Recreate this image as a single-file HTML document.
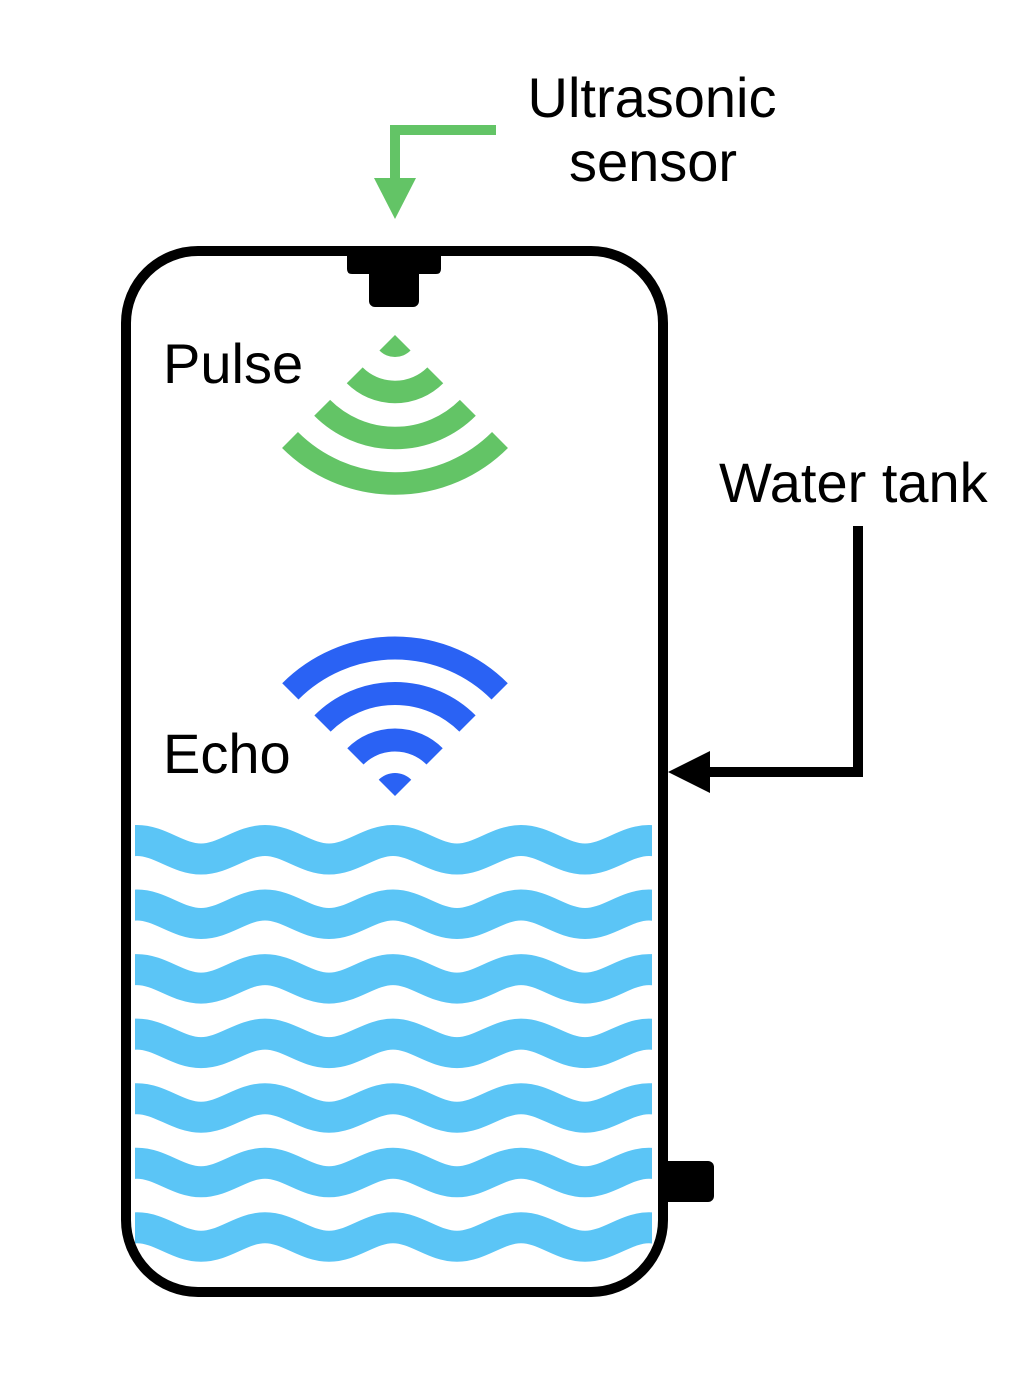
<!DOCTYPE html>
<html>
<head>
<meta charset="utf-8">
<style>
  html, body { margin: 0; padding: 0; background: #ffffff; }
  body { width: 1036px; height: 1382px; overflow: hidden; }
  svg { display: block; }
  text { font-family: "Liberation Sans", "DejaVu Sans", sans-serif; font-size: 56px; fill: #000; }
</style>
</head>
<body>
<svg width="1036" height="1382" viewBox="0 0 1036 1382" xmlns="http://www.w3.org/2000/svg">
  <defs>
    <clipPath id="wclip">
      <rect x="135" y="0" width="517" height="1382"/>
    </clipPath>
    <path id="w" d="M 9,-9.25 C 32.3,-9.25 49.7,9.25 73,9.25 S 113.7,-9.25 137,-9.25 S 177.7,9.25 201,9.25 S 241.7,-9.25 265,-9.25 S 305.7,9.25 329,9.25 S 369.7,-9.25 393,-9.25 S 433.7,9.25 457,9.25 S 497.7,-9.25 521,-9.25 S 561.7,9.25 585,9.25 S 625.7,-9.25 649,-9.25 S 689.7,9.25 713,9.25 S 753.7,-9.25 777,-9.25" fill="none" stroke="#5BC5F6" stroke-width="31"/>
  </defs>

  <!-- Water waves -->
  <g clip-path="url(#wclip)">
    <use href="#w" transform="translate(0,849.75)"/>
    <use href="#w" transform="translate(0,914.3)"/>
    <use href="#w" transform="translate(0,978.85)"/>
    <use href="#w" transform="translate(0,1043.4)"/>
    <use href="#w" transform="translate(0,1107.95)"/>
    <use href="#w" transform="translate(0,1172.5)"/>
    <use href="#w" transform="translate(0,1237.05)"/>
  </g>

  <!-- Right side connector -->
  <rect x="658" y="1161" width="56" height="41" rx="6" fill="#000"/>

  <!-- Tank -->
  <rect x="126" y="251" width="537" height="1041" rx="72" ry="72" fill="none" stroke="#000" stroke-width="10"/>

  <!-- Sensor -->
  <path d="M347,250 H441 V269 Q441,274 436,274 H352 Q347,274 347,269 Z" fill="#000"/>
  <rect x="369" y="266" width="50" height="41" rx="6" fill="#000"/>

  <!-- Pulse (green) -->
  <g fill="none" stroke="#63C466" stroke-width="22.5">
    <path d="M354.7,375.3 A57 57 0 0 0 435.3,375.3"/>
    <path d="M322.17,407.83 A103 103 0 0 0 467.83,407.83"/>
    <path d="M290,440 A148.5 148.5 0 0 0 500,440"/>
  </g>
  <path d="M395,335 L379.44,350.56 A22 22 0 0 0 410.56,350.56 Z" fill="#63C466"/>

  <!-- Echo (blue) -->
  <g fill="none" stroke="#2A62F4" stroke-width="23">
    <path d="M355.4,756.4 A56 56 0 0 1 434.6,756.4"/>
    <path d="M322.52,723.52 A102.5 102.5 0 0 1 467.48,723.52"/>
    <path d="M290.35,691.35 A148 148 0 0 1 499.65,691.35"/>
  </g>
  <path d="M395,796 L378.74,779.74 A23 23 0 0 1 411.26,779.74 Z" fill="#2A62F4"/>

  <!-- Green arrow to sensor -->
  <polyline points="496,130 395,130 395,182" fill="none" stroke="#63C466" stroke-width="10" stroke-linejoin="miter"/>
  <polygon points="374,178 416,178 395,219" fill="#63C466"/>

  <!-- Black arrow to tank -->
  <polyline points="858,526 858,772 706,772" fill="none" stroke="#000" stroke-width="10" stroke-linejoin="miter"/>
  <polygon points="668,772 710,751 710,793" fill="#000"/>

  <!-- Labels -->
  <text x="652" y="117" text-anchor="middle">Ultrasonic</text>
  <text x="653" y="181" text-anchor="middle">sensor</text>
  <text x="719" y="502">Water tank</text>
  <text x="163" y="383">Pulse</text>
  <text x="163" y="773">Echo</text>
</svg>
</body>
</html>
